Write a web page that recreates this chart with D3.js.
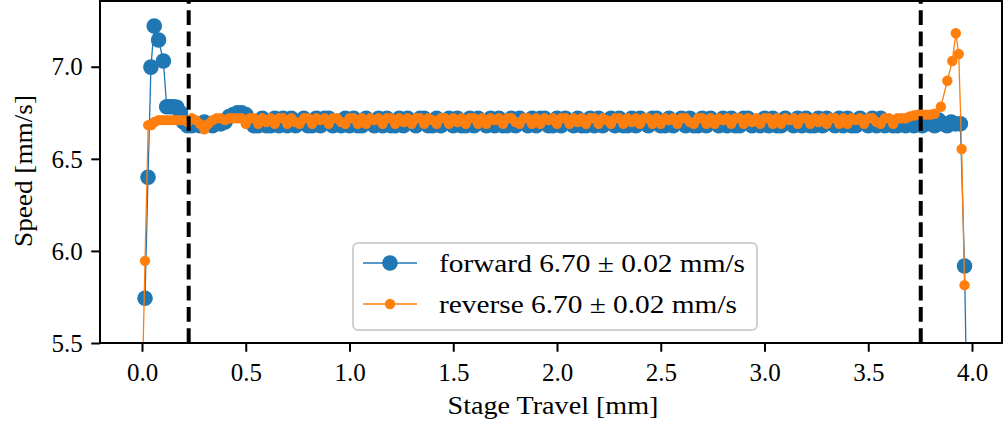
<!DOCTYPE html>
<html><head><meta charset="utf-8">
<script src="https://cdn.jsdelivr.net/npm/d3@7"></script>
<style>body{margin:0;background:#fff}svg{display:block}text{font-family:"Liberation Serif","Times New Roman",serif;fill:#000}</style>
</head><body><svg id="c" width="1003" height="427"></svg>
<script>
// ---- data ----
const xTicks = [0.0, 0.5, 1.0, 1.5, 2.0, 2.5, 3.0, 3.5, 4.0];
const yTicks = [5.5, 6.0, 6.5, 7.0];
const cutLines = [0.225, 3.753];

const travel = [
 0.22,0.24,0.26,0.28,0.30,0.32,0.34,0.36,0.38,0.40,0.42,0.44,0.46,0.48,0.50,0.52,0.54,0.56,0.58,0.60,0.62,0.64,0.66,0.68,0.70,
 0.72,0.74,0.76,0.78,0.80,0.82,0.84,0.86,0.88,0.90,0.92,0.94,0.96,0.98,1.00,1.02,1.04,1.06,1.08,1.10,1.12,1.14,1.16,1.18,1.20,
 1.22,1.24,1.26,1.28,1.30,1.32,1.34,1.36,1.38,1.40,1.42,1.44,1.46,1.48,1.50,1.52,1.54,1.56,1.58,1.60,1.62,1.64,1.66,1.68,1.70,
 1.72,1.74,1.76,1.78,1.80,1.82,1.84,1.86,1.88,1.90,1.92,1.94,1.96,1.98,2.00,2.02,2.04,2.06,2.08,2.10,2.12,2.14,2.16,2.18,2.20,
 2.22,2.24,2.26,2.28,2.30,2.32,2.34,2.36,2.38,2.40,2.42,2.44,2.46,2.48,2.50,2.52,2.54,2.56,2.58,2.60,2.62,2.64,2.66,2.68,2.70,
 2.72,2.74,2.76,2.78,2.80,2.82,2.84,2.86,2.88,2.90,2.92,2.94,2.96,2.98,3.00,3.02,3.04,3.06,3.08,3.10,3.12,3.14,3.16,3.18,3.20,
 3.22,3.24,3.26,3.28,3.30,3.32,3.34,3.36,3.38,3.40,3.42,3.44,3.46,3.48,3.50,3.52,3.54,3.56,3.58,3.60,3.62,3.64,3.66,3.68,3.70];

const fwdStartX = [0.0145,0.029,0.043,0.059,0.080,0.103,0.119,0.135,0.152,0.168,0.185,0.200];
const fwdStartY = [5.743,6.400,6.998,7.221,7.145,7.031,6.783,6.783,6.783,6.780,6.750,6.700];
const fwdFlat = [
 6.68,6.68,6.69,6.68,6.70,6.69,6.68,6.70,6.69,6.70,6.73,6.74,6.75,6.75,6.74,6.70,6.68,6.68,6.72,6.68,6.68,6.72,6.68,6.72,6.68,
 6.72,6.68,6.70,6.72,6.68,6.68,6.72,6.68,6.72,6.72,6.68,6.70,6.68,6.72,6.68,6.72,6.68,6.68,6.72,6.70,6.68,6.72,6.68,6.72,6.68,
 6.68,6.72,6.68,6.72,6.70,6.68,6.72,6.72,6.68,6.68,6.72,6.68,6.70,6.72,6.68,6.72,6.68,6.68,6.72,6.68,6.72,6.70,6.68,6.72,6.68,
 6.72,6.68,6.68,6.72,6.68,6.72,6.70,6.68,6.72,6.68,6.72,6.72,6.68,6.68,6.72,6.68,6.72,6.70,6.68,6.72,6.68,6.68,6.72,6.68,6.72,
 6.68,6.70,6.72,6.68,6.72,6.68,6.68,6.72,6.68,6.72,6.70,6.68,6.72,6.72,6.68,6.68,6.72,6.68,6.70,6.72,6.68,6.72,6.68,6.68,6.72,
 6.68,6.72,6.70,6.68,6.72,6.68,6.72,6.68,6.68,6.72,6.72,6.68,6.70,6.68,6.72,6.68,6.72,6.68,6.68,6.72,6.70,6.68,6.72,6.68,6.72,
 6.68,6.68,6.72,6.68,6.72,6.70,6.68,6.72,6.68,6.72,6.68,6.68,6.72,6.70,6.68,6.72,6.68,6.72,6.68,6.70,6.68,6.68,6.69,6.68,6.69];
const fwdEndX = [3.72,3.74,3.76,3.78,3.80,3.82,3.84,3.86,3.88,3.90,3.92,3.944,3.964,3.978];
const fwdEndY = [6.68,6.69,6.68,6.70,6.69,6.68,6.71,6.69,6.68,6.70,6.69,6.69,5.918,5.000];

const revStartX = [0.000,0.0145,0.030,0.045,0.060,0.08,0.10,0.12,0.14,0.16,0.18,0.20];
const revStartY = [5.200,5.946,6.683,6.683,6.700,6.71,6.71,6.71,6.71,6.71,6.71,6.71];
const revFlat = [
 6.70,6.72,6.71,6.69,6.66,6.69,6.71,6.72,6.72,6.71,6.72,6.72,6.72,6.72,6.69,6.72,6.72,6.69,6.72,6.70,6.72,6.69,6.72,6.72,6.69,
 6.72,6.70,6.69,6.72,6.72,6.69,6.72,6.71,6.72,6.69,6.72,6.72,6.70,6.69,6.72,6.72,6.69,6.72,6.69,6.72,6.71,6.72,6.69,6.72,6.72,
 6.69,6.72,6.70,6.72,6.69,6.72,6.72,6.69,6.72,6.71,6.69,6.72,6.72,6.69,6.72,6.70,6.72,6.69,6.72,6.72,6.69,6.72,6.69,6.72,6.71,
 6.72,6.69,6.72,6.72,6.70,6.69,6.72,6.72,6.69,6.72,6.69,6.72,6.71,6.72,6.69,6.72,6.72,6.69,6.72,6.70,6.72,6.69,6.72,6.72,6.69,
 6.72,6.71,6.69,6.72,6.72,6.69,6.72,6.70,6.72,6.69,6.72,6.72,6.69,6.72,6.69,6.72,6.71,6.72,6.69,6.72,6.72,6.70,6.69,6.72,6.72,
 6.69,6.72,6.69,6.72,6.71,6.72,6.69,6.72,6.72,6.69,6.72,6.70,6.72,6.69,6.72,6.72,6.69,6.72,6.69,6.72,6.71,6.72,6.69,6.72,6.72,
 6.69,6.72,6.70,6.72,6.69,6.72,6.72,6.69,6.72,6.69,6.72,6.71,6.72,6.69,6.72,6.72,6.70,6.69,6.72,6.72,6.69,6.72,6.72,6.72,6.73];
const revEndX = [3.72,3.74,3.76,3.78,3.80,3.82,3.850,3.881,3.905,3.922,3.936,3.950,3.964];
const revEndY = [6.735,6.74,6.74,6.74,6.74,6.745,6.783,6.924,7.031,7.182,7.069,6.553,5.814];

const series = [
  {name: "forward 6.70 \u00b1 0.02 mm/s", color: "#1f77b4", r: 7.8,
   x: fwdStartX.concat(travel, fwdEndX), y: fwdStartY.concat(fwdFlat, fwdEndY)},
  {name: "reverse 6.70 \u00b1 0.02 mm/s", color: "#ff7f0e", r: 5.2,
   x: revStartX.concat(travel, revEndX), y: revStartY.concat(revFlat, revEndY)}
];

// ---- layout ----
const L = 100, R = 1002, T = 1, B = 343;
const svg = d3.select("#c");
const x = d3.scaleLinear().domain([0, 4]).range([142, 972]);
const y = d3.scaleLinear().domain([5.5, 7.357]).range([B, T]);

svg.append("clipPath").attr("id", "clip").append("rect")
  .attr("x", L).attr("y", T).attr("width", R - L).attr("height", B - T);
const plot = svg.append("g").attr("clip-path", "url(#clip)");

const line = d3.line().x(d => x(d[0])).y(d => y(d[1]));
series.forEach(s => {
  const pts = s.x.map((v, i) => [v, s.y[i]]);
  plot.append("path").datum(pts).attr("d", line)
    .attr("fill", "none").attr("stroke", s.color).attr("stroke-width", 1.3);
  plot.append("g").selectAll("circle").data(pts).join("circle")
    .attr("cx", d => x(d[0])).attr("cy", d => y(d[1])).attr("r", s.r)
    .attr("fill", s.color);
});

plot.selectAll("line.cut").data(cutLines).join("line").attr("class", "cut")
  .attr("x1", d => x(d)).attr("x2", d => x(d)).attr("y1", B).attr("y2", T)
  .attr("stroke", "#000").attr("stroke-width", 4).attr("stroke-dasharray", "14.8,6.4");

// axes
const xa = svg.append("g").attr("transform", `translate(0,${B})`)
  .call(d3.axisBottom(x).tickValues(xTicks).tickFormat(d3.format(".1f")).tickSize(8.75).tickPadding(8));
const ya = svg.append("g").attr("transform", `translate(${L},0)`)
  .call(d3.axisLeft(y).tickValues(yTicks).tickFormat(d3.format(".1f")).tickSize(8.75).tickPadding(8.5));
[xa, ya].forEach(a => {
  a.attr("font-family", null);
  a.select(".domain").remove();
  a.selectAll(".tick line").attr("stroke", "#000").attr("stroke-width", 2);
  a.selectAll(".tick text").style("font-family", '"Liberation Serif", serif').style("font-size", "25px").attr("fill", "#000");
});
xa.selectAll(".tick text").attr("dy", null).attr("y", 38);
ya.selectAll(".tick text").attr("dy", "0.33em");

svg.append("rect").attr("x", L).attr("y", T).attr("width", R - L).attr("height", B - T)
  .attr("fill", "none").attr("stroke", "#000").attr("stroke-width", 2);

svg.append("text").attr("x", (L + R) / 2 + 2).attr("y", 414).attr("text-anchor", "middle")
  .style("font-size", "25px").attr("textLength", 211).attr("lengthAdjust", "spacingAndGlyphs")
  .text("Stage Travel [mm]");
svg.append("text").attr("transform", `translate(32,${(T + B) / 2 - 1}) rotate(-90)`).attr("text-anchor", "middle")
  .style("font-size", "25px").attr("textLength", 152).attr("lengthAdjust", "spacingAndGlyphs")
  .text("Speed [mm/s]");

// legend
const lg = svg.append("g");
lg.append("rect").attr("x", 353).attr("y", 243).attr("width", 404).attr("height", 87).attr("rx", 5)
  .attr("fill", "#fff").attr("fill-opacity", 0.8).attr("stroke", "#d0d0d0").attr("stroke-width", 2);
const rowsY = [263, 304], textW = [306, 298];
series.forEach((s, i) => {
  const g = lg.append("g");
  g.append("line").attr("x1", 363).attr("x2", 417).attr("y1", rowsY[i]).attr("y2", rowsY[i])
    .attr("stroke", s.color).attr("stroke-width", 1.3);
  g.append("circle").attr("cx", 390).attr("cy", rowsY[i]).attr("r", s.r).attr("fill", s.color);
  g.append("text").attr("x", 439).attr("y", rowsY[i] + 9).style("font-size", "25px")
    .attr("textLength", textW[i]).attr("lengthAdjust", "spacingAndGlyphs").text(s.name);
});
</script></body></html>
